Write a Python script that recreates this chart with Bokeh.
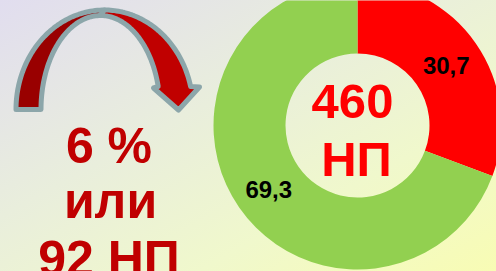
import numpy as np
from bokeh.plotting import figure
from bokeh.models import Range1d, ColumnDataSource, GlobalInlineStyleSheet
from bokeh.embed import file_html
from bokeh.resources import INLINE
from bokeh.core.properties import value

# ---- data ----
categories = ["Доля 1", "Доля 2"]
shares = [30.7, 69.3]
slice_colors = ["#FF0000", "#92D050"]
center_lines = ["460", "НП"]
change_lines = ["6 %", "или", "92 НП"]

W, H = 496, 271  # y_data = H - y_pixel
FONT = value("Liberation Sans")

p = figure(width=W, height=H, x_range=Range1d(0, W), y_range=Range1d(0, H),
           x_axis_type=None, y_axis_type=None, toolbar_location=None,
           output_backend="svg", min_border=0)
p.outline_line_color = None
p.background_fill_alpha = 0
p.border_fill_alpha = 0
p.stylesheets = [GlobalInlineStyleSheet(css=(
    "html{height:100%;background:linear-gradient(to bottom right,"
    "#E1DDEF 0%,#E9EEDC 40%,#F0F8CC 70%,#F8FCB4 100%);}"
    "body{background:transparent;}"))]

# ---- donut ----
cx, cy = 357, H - 125
r_in, r_out = 72, 144
frac = np.array(shares) / sum(shares)
ends = np.pi / 2 - 2 * np.pi * np.cumsum(frac)
starts = np.concatenate([[np.pi / 2], ends[:-1]])
mids = (starts + ends) / 2
r_lab = (r_in + r_out) / 2
src = ColumnDataSource(dict(
    start=starts, end=ends, color=slice_colors,
    lx=cx + r_lab * np.cos(mids), ly=cy + r_lab * np.sin(mids),
    label=[f"{v:.1f}".replace(".", ",") for v in shares],
))
p.annular_wedge(x=cx, y=cy, inner_radius=r_in, outer_radius=r_out,
                start_angle="start", end_angle="end", direction="clock",
                fill_color="color", line_color=None, source=src)
p.text(x="lx", y="ly", text="label", source=src, text_font=FONT,
       text_font_size="24px", text_font_style="bold", text_color="black",
       text_align="center", text_baseline="alphabetic", y_offset=2)

# center text
p.text(x=[352, 356], y=[H - 101, H - 158], text=center_lines, text_font=FONT,
       text_font_size="49px", text_font_style="bold", text_color="#FF0000",
       text_align="center", text_baseline="alphabetic")

# ---- curved arrow ----
def arc(cxa, cya, rx, ry, t0, t1, n=60):
    t = np.linspace(t0, t1, n)
    return cxa + rx * np.cos(t), cya - ry * np.sin(t)

ocx, ocy, orx, ory = 104, 109, 88.5, 99.5
icx, icy, irx, iry = 100, 109, 59.5, 94
y_end = 86
to_end = np.arcsin((ocy - y_end) / ory)
ti_end = np.arcsin((icy - y_end) / iry)

ox, oy = arc(ocx, ocy, orx, ory, np.pi, np.pi / 2)
ix, iy = arc(icx, icy, irx, iry, np.pi / 2, np.pi)
lx = np.concatenate([ox, ix]); ly = np.concatenate([oy, iy])
ox2, oy2 = arc(ocx, ocy, orx, ory, np.pi / 2, to_end)
ix2, iy2 = arc(icx, icy, irx, iry, ti_end, np.pi / 2)
head_x = [199, 178, 153]
head_y = [86.5, 109.5, 87.5]
rx_ = np.concatenate([ox2, head_x, ix2]); ry_ = np.concatenate([oy2, head_y, iy2])

p.patches(xs=[list(lx), list(rx_)], ys=[list(H - ly), list(H - ry_)],
          fill_color=["#990000", "#C00000"], line_color="#8CA6AA", line_width=5,
          line_join="round")

# left text
p.text(x=[108.5, 110, 108.5], y=[H - 145, H - 200, H - 258], text=change_lines,
       text_font=FONT, text_font_size="50px", text_font_style="bold",
       text_color="#C00000", text_align="center", text_baseline="alphabetic")

open("out.html", "w").write(file_html(p, INLINE))
